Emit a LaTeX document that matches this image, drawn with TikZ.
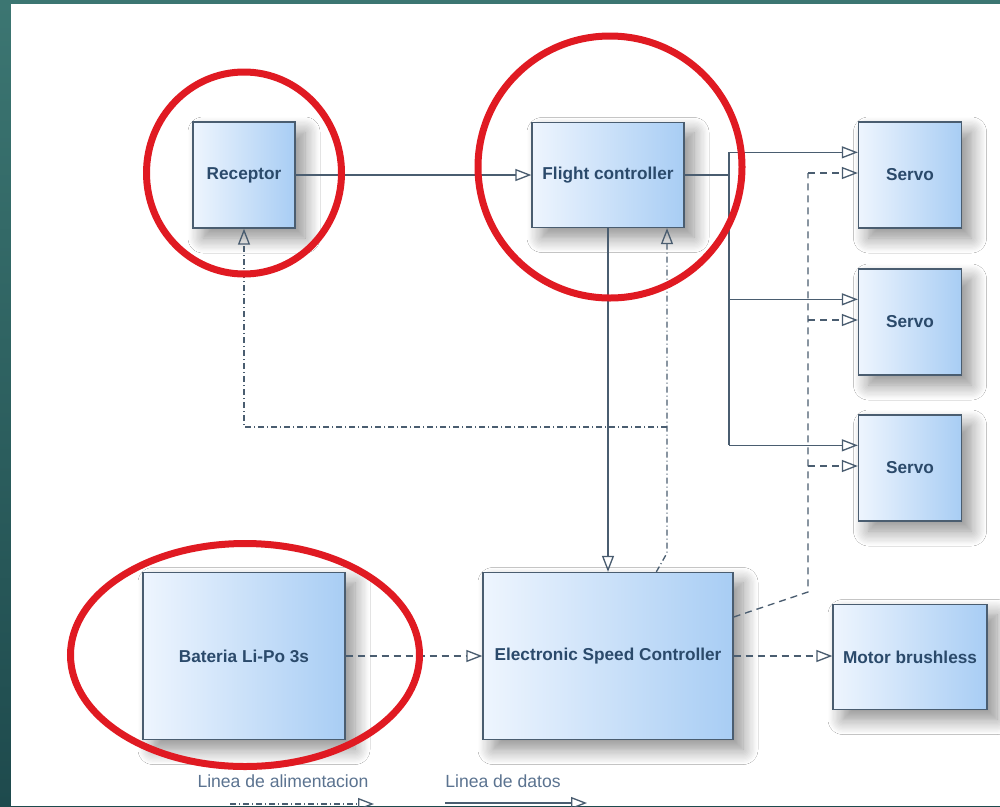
\documentclass[tikz,border=0pt]{standalone}
\usepackage{fontspec}
\setmainfont{Liberation Sans}
\usetikzlibrary{arrows.meta,calc,shadows.blur}

\definecolor{slidetop}{HTML}{3C7672}
\definecolor{slidebot}{HTML}{1E4A4D}
\definecolor{edge}{HTML}{4A5D70}
\definecolor{boxlo}{HTML}{EEF5FE}
\definecolor{boxhi}{HTML}{A8CDF4}
\definecolor{ink}{HTML}{2B4A6B}
\definecolor{legendink}{HTML}{5B7390}
\definecolor{ringred}{HTML}{E01A22}

\begin{document}
\begin{tikzpicture}[x=0.2mm, y=-0.2mm]
    % Define styles
    \tikzset{
        block/.style={draw=edge, line width=0.75pt, left color=boxlo, right color=boxhi,
            text=ink, font=\bfseries\fontsize{9.8}{12}\selectfont,
            blur shadow={shadow xshift=2mm, shadow yshift=-2mm, shadow blur radius=3mm, shadow blur steps=12, shadow opacity=45}},
        servo/.style={block, minimum width=20.6mm, minimum height=21.2mm},
        link/.style={draw=edge, line width=0.75pt},
        headed/.style={-{Triangle[open, length=3.2mm, width=2.4mm]}},
        data/.style={link, headed},
        feed/.style={link, dash pattern=on 1.4mm off 1mm},
        alim/.style={link, dash pattern=on 1.2mm off 0.6mm on 0.2mm off 0.6mm},
        ring/.style={draw=ringred, line width=1.4mm},
        legend/.style={text=legendink, font=\fontsize{10}{12}\selectfont}
    }

    % Slide background
    \clip (0,0) rectangle (1000,806);
    \shade[top color=slidetop, bottom color=slidebot] (0,0) rectangle (1000,806);
    \fill[white] (11,4) rectangle (1000,806);

    % Blocks
    \node[block, minimum width=20.4mm, minimum height=21.2mm] (rx) at (244,175) {Receptor};
    \node[block, minimum width=30.4mm, minimum height=21mm] (fc) at (608,175) {Flight controller};
    \node[servo] (s1) at (910,175) {Servo};
    \node[servo] (s2) at (910,322) {Servo};
    \node[servo] (s3) at (910,468) {Servo};
    \node[block, minimum width=40.4mm, minimum height=33.4mm] (bat) at (244,656) {Bateria Li-Po 3s};
    \node[block, minimum width=50mm, minimum height=33.4mm] (esc) at (608,656) {Electronic Speed Controller};
    \node[block, minimum width=30.8mm, minimum height=21mm] (motor) at (910,657) {Motor brushless};

    % Bus corners
    \coordinate (databus) at (729,175);
    \coordinate (pwrbus) at (808,592);
    \coordinate (fbk) at (667,553);
    \coordinate (rxret) at (667,427);

    % Data lines
    \draw[data] (rx) -- (fc);
    \draw[data] (fc) -- (esc);
    \draw[link] (fc.east) -- (databus);
    \foreach \s in {s1,s2,s3} {
        \coordinate (\s-d) at ($(\s.north west)+(0,31)$);
        \coordinate (\s-p) at ($(\s.west)+(0,-2)$);
        \draw[data] (databus |- \s-d) -- (\s-d);
        \draw[feed, headed] (pwrbus |- \s-p) -- (\s-p);
    }
    \draw[link] (databus |- s1-d) -- (databus |- s3-d);

    % Power lines
    \draw[feed, headed] (bat) -- (esc);
    \draw[feed, headed] (esc.east) -- (esc.east -| motor.west);
    \draw[feed] ($(esc.east)+(0,-39)$) -- (pwrbus) -- (pwrbus |- s1-p);
    \draw[alim, headed] ($(esc.north west)+(174,0)$) -- (fbk) -- (fbk |- fc.south);
    \draw[alim, headed] (rxret) -- (rxret -| rx.south) -- (rx.south);

    % Legend
    \node[legend] (alimkey) at (283,781) {Linea de alimentacion};
    \node[legend] (datakey) at (503,781) {Linea de datos};
    \coordinate (alimkey-a) at (230,804);
    \coordinate (alimkey-b) at (374,804);
    \coordinate (datakey-a) at (445,803);
    \coordinate (datakey-b) at (587,803);
    \draw[alim, headed] (alimkey-a) -- (alimkey-b);
    \draw[data] (datakey-a) -- (datakey-b);

    % Highlight rings
    \draw[ring] (244,173) ellipse [x radius=97.5, y radius=101];
    \draw[ring] (610,167) ellipse [x radius=132, y radius=131];
    \draw[ring] (245,655) ellipse [x radius=174.5, y radius=111.5];
\end{tikzpicture}
\end{document}
